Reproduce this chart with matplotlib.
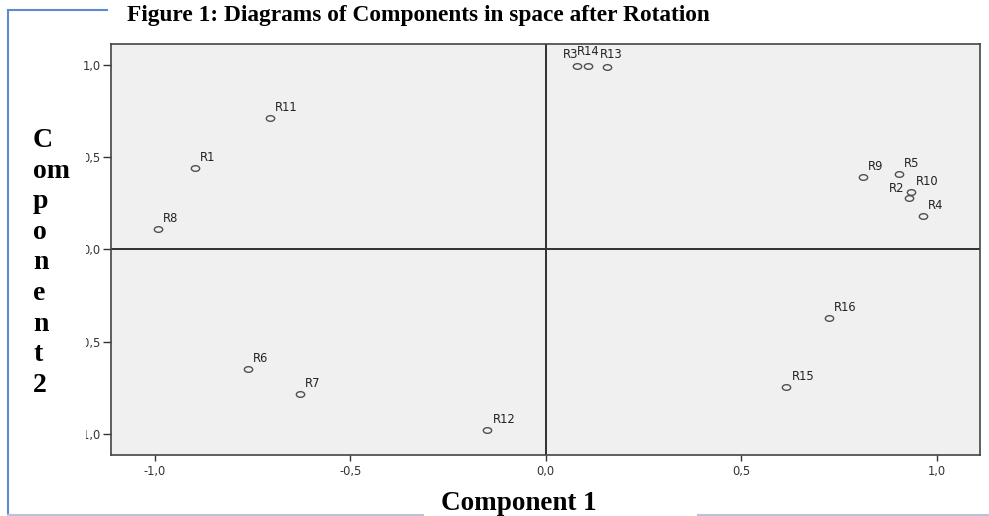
import numpy as np
import matplotlib
matplotlib.use("Agg")
from matplotlib import pyplot as plt
from matplotlib.path import Path
from matplotlib.patches import Rectangle
from matplotlib.lines import Line2D

# component loadings
names = ["R1", "R2", "R3", "R4", "R5", "R6", "R7", "R8",
         "R9", "R10", "R11", "R12", "R13", "R14", "R15", "R16"]
comp1 = [-0.897, 0.930, 0.081, 0.966, 0.904, -0.761, -0.628, -0.993,
         0.812, 0.934, -0.705, -0.149, 0.158, 0.109, 0.616, 0.725]
comp2 = [0.440, 0.278, 0.993, 0.180, 0.408, -0.648, -0.784, 0.110,
         0.390, 0.309, 0.711, -0.980, 0.986, 0.993, -0.748, -0.374]

xticks = [-1.0, -0.5, 0.0, 0.5, 1.0]
xtick_labels = ["-1,0", "-0,5", "0,0", "0,5", "1,0"]
yticks = [-1.0, -0.5, 0.0, 0.5, 1.0]
ytick_labels = ["-1,0", "-0,5", "0,0", "0,5", "1,0"]

title = "Figure 1: Diagrams of Components in space after Rotation"
xlabel = "Component 1"
ylabel_parts = ["C", "om", "p", "o", "n", "e", "n", "t", "2"]

# label nudges in pixels (dx, dy, ha), default is up-right of the marker
nudge = {"R3": (1, 8, "right"), "R14": (-11, 11, "left"),
         "R13": (-8, 9, "left"), "R2": (-5, 6, "right")}
default_nudge = (5, 7, "left")

W, H = 989, 516
fig = plt.figure(figsize=(W / 100, H / 100), dpi=100)
fig.patch.set_facecolor("white")

ax = fig.add_axes([111 / W, 1 - 455 / H, (980 - 111) / W, (455 - 44) / H])
ax.set_facecolor("#f0f0f0")
for s in ax.spines.values():
    s.set_color("#444444")
    s.set_linewidth(1.2)

ax.axhline(0, color="#303030", lw=1.4, zorder=1)
ax.axvline(0, color="#303030", lw=1.4, zorder=1)

# slightly squashed circle, the original picture is stretched sideways
circ = Path.unit_circle()
ell = Path(circ.vertices * np.array([1.0, 0.68]), circ.codes)
ax.plot(comp1, comp2, linestyle="none", marker=ell, markersize=6,
        markerfacecolor="none", markeredgecolor="#505050",
        markeredgewidth=1.0, zorder=3)

for n, xv, yv in zip(names, comp1, comp2):
    dx, dy, ha = nudge.get(n, default_nudge)
    ax.annotate(n, (xv, yv), xytext=(dx * 0.72, dy * 0.72),
                textcoords="offset points", ha=ha, va="baseline",
                fontsize=8.3, family="DejaVu Sans", color="#222222",
                zorder=4)

ax.set_xlim(-1.112, 1.111)
ax.set_ylim(-1.114, 1.112)
ax.set_xticks(xticks)
ax.set_xticklabels(xtick_labels)
ax.set_yticks(yticks)
ax.set_yticklabels(ytick_labels)
ax.tick_params(axis="x", direction="out", length=4.5, width=1.0,
               color="#333333", pad=2.5, labelsize=8.3, labelcolor="#333333")
ax.tick_params(axis="y", direction="out", length=6, width=1.0,
               color="#333333", pad=1.5, labelsize=8.3, labelcolor="#333333")

# white text box that hides the left part of the y tick labels
fig.patches.append(Rectangle((11 / W, 1 - 470 / H), (86 - 11) / W, (470 - 95) / H,
                             transform=fig.transFigure, facecolor="white",
                             edgecolor="none", zorder=1))

# frame lines of the document boxes
blue = "#5b8bd0"
light = "#b8c4da"
fig.lines.append(Line2D([7.5 / W, 7.5 / W], [0, 1 - 10 / H], color=blue, lw=1.5,
                        transform=fig.transFigure, zorder=2))
fig.lines.append(Line2D([7.5 / W, 107 / W], [1 - 10 / H, 1 - 10 / H], color=blue,
                        lw=1.5, transform=fig.transFigure, zorder=2))
fig.lines.append(Line2D([7.5 / W, 423 / W], [1 - 514.5 / H, 1 - 514.5 / H],
                        color=light, lw=1.5, transform=fig.transFigure, zorder=2))
fig.lines.append(Line2D([698 / W, 988 / W], [1 - 514.5 / H, 1 - 514.5 / H],
                        color=light, lw=1.5, transform=fig.transFigure, zorder=2))

serif = "Liberation Serif"
fig.text(127 / W, 1 - 21 / H, title, ha="left", va="baseline",
         fontsize=16.8, fontweight="bold", family=serif, zorder=3)
fig.text(519 / W, 1 - 509.5 / H, xlabel, ha="center", va="baseline",
         fontsize=19.5, fontweight="bold", family=serif, zorder=3)
for i, part in enumerate(ylabel_parts):
    fig.text(33 / W, 1 - (147 + i * 30.6) / H, part, ha="left", va="baseline",
             fontsize=20, fontweight="bold", family=serif, zorder=3)

fig.savefig("out.png", dpi=100)
